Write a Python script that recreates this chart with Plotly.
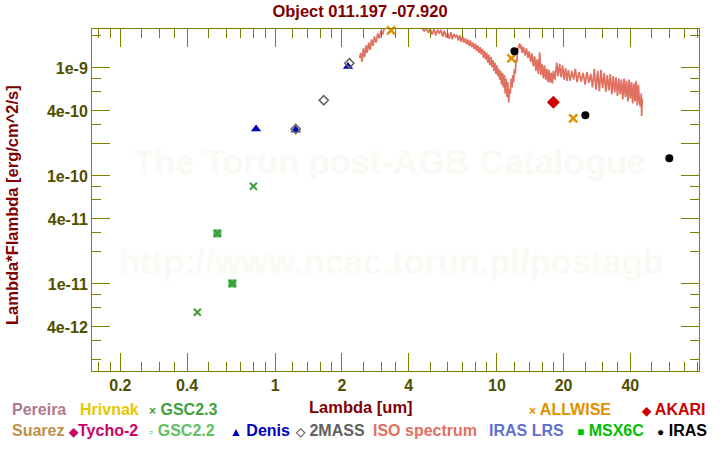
import plotly.graph_objects as go

# ---------------- data ----------------
title_text = "Object 011.197 -07.920"
x_label = "Lambda [um]"
y_label = "Lambda*Flambda [erg/cm^2/s]"
watermark_1 = "The Torun post-AGB Catalogue"
watermark_2 = "http://www.ncac.torun.pl/postagb"

# ISO spectrum (wavelength in um, flux in units of 1e-9 erg/cm^2/s)
iso_wl = [2.40, 2.43, 2.46, 2.50, 2.53, 2.57, 2.60, 2.64, 2.68, 2.72, 2.76, 2.80, 2.85, 2.90, 2.95,
          3.00, 3.05, 3.10, 3.20, 3.35, 3.60, 3.90, 4.20, 4.40, 4.60, 4.70, 4.80, 4.90, 5.00, 5.10,
          5.20, 5.30, 5.40, 5.50, 5.60, 5.70, 5.80, 5.90, 6.00, 6.10, 6.20, 6.30, 6.40, 6.50, 6.60,
          6.70, 6.80, 6.90, 7.00, 7.10, 7.20, 7.30, 7.40, 7.50, 7.60, 7.70, 7.80, 7.90, 8.00, 8.10,
          8.20, 8.30, 8.40, 8.50, 8.60, 8.70, 8.80, 8.90, 9.00, 9.10, 9.20, 9.30, 9.40, 9.50, 9.60,
          9.70, 9.80, 9.90, 10.0, 10.1, 10.2, 10.3, 10.4, 10.5, 10.6, 10.7, 10.8, 10.9, 11.0, 11.1,
          11.2, 11.3, 11.4, 11.5, 11.6, 11.7, 11.8, 11.9, 12.0, 12.1, 12.2, 12.3, 12.4, 12.5, 12.6,
          12.7, 12.8, 12.9, 13.0, 13.2, 13.4, 13.6, 13.8, 14.0, 14.2, 14.4, 14.6, 14.8, 15.0, 15.2,
          15.4, 15.6, 15.8, 16.0, 16.2, 16.4, 16.6, 16.8, 17.0, 17.2, 17.4, 17.6, 17.8, 18.0, 18.3,
          18.6, 18.9, 19.2, 19.5, 19.8, 20.1, 20.4, 20.7, 21.0, 21.4, 21.8, 22.2, 22.6, 23.0, 23.5,
          24.0, 24.5, 25.0, 25.5, 26.0, 26.5, 27.0, 27.5, 28.0, 28.5, 29.0, 29.5, 30.0, 30.5, 31.0,
          31.5, 32.0, 32.5, 33.0, 33.5, 34.0, 34.5, 35.0, 35.5, 36.0, 36.5, 37.0, 37.5, 38.0, 38.5,
          39.0, 39.5, 40.0, 40.5, 41.0, 41.5, 42.0, 42.5, 43.0, 43.5, 44.0, 44.5, 44.8, 45.0, 45.3]
iso_flux_e9 = [1.24, 1.38, 1.14, 1.52, 1.26, 1.62, 1.38, 1.72, 1.47, 1.84, 1.60, 1.96, 1.72, 2.08, 1.88,
               2.22, 2.04, 2.30, 2.45, 2.60, 2.75, 2.80, 2.70, 2.45, 2.32, 2.20, 2.34, 2.12, 2.30, 2.04,
               2.28, 2.00, 2.26, 2.08, 2.25, 1.95, 2.22, 1.92, 2.10, 1.86, 2.14, 1.84, 2.06, 1.94, 2.02,
               1.80, 2.00, 1.74, 1.96, 1.72, 1.88, 1.66, 1.84, 1.60, 1.80, 1.56, 1.72, 1.50, 1.68, 1.44,
               1.62, 1.38, 1.56, 1.34, 1.50, 1.24, 1.44, 1.20, 1.38, 1.12, 1.32, 1.06, 1.26, 1.02, 1.18,
               0.94, 1.12, 0.88, 1.06, 0.84, 0.98, 0.78, 0.94, 0.70, 0.90, 0.66, 0.86, 0.58, 0.80, 0.54,
               0.74, 0.48, 0.64, 0.58, 0.80, 0.66, 0.86, 0.74, 0.98, 0.88, 1.20, 1.12, 1.48, 1.52, 1.63,
               1.68, 1.50, 1.62, 1.38, 1.56, 1.30, 1.52, 1.24, 1.42, 1.14, 1.36, 1.04, 1.28, 0.94, 1.20,
               0.88, 1.40, 0.86, 1.08, 0.80, 1.06, 0.78, 0.98, 0.74, 0.96, 0.73, 0.90, 0.72, 0.94, 0.78,
               1.12, 0.84, 1.10, 0.82, 1.06, 0.78, 1.00, 0.76, 0.96, 0.76, 0.94, 0.78, 0.98, 0.74, 0.92,
               0.75, 0.90, 0.70, 0.92, 0.73, 0.88, 0.66, 0.98, 0.63, 0.94, 0.61, 0.96, 0.65, 0.90, 0.60,
               0.86, 0.62, 0.88, 0.57, 0.84, 0.59, 0.82, 0.55, 0.80, 0.57, 0.78, 0.51, 0.80, 0.54, 0.76,
               0.49, 0.78, 0.52, 0.74, 0.47, 0.72, 0.49, 0.76, 0.45, 0.70, 0.47, 0.44, 0.58, 0.36, 0.52]

gsc22_wl = [0.548, 0.640]
gsc22_flux = [2.94e-11, 1.01e-11]
gsc23_wl = [0.445, 0.548, 0.640, 0.797]
gsc23_flux = [5.47e-12, 2.94e-11, 1.01e-11, 8.03e-11]
denis_wl = [0.819, 1.237, 2.13]
denis_flux = [2.72e-10, 2.67e-10, 1.03e-9]
tmass_wl = [1.237, 1.655, 2.16]
tmass_flux = [2.72e-10, 5.02e-10, 1.105e-9]
allwise_wl = [3.33, 11.63, 22.1]
allwise_flux = [2.23e-9, 1.23e-9, 3.42e-10]
akari_wl = [17.98]
akari_flux = [4.81e-10]
iras_wl = [12.0, 25.07, 60.0]
iras_flux = [1.43e-9, 3.65e-10, 1.46e-10]

x_major = [0.2, 0.4, 1, 2, 4, 10, 20, 40]
x_major_text = ["0.2", "0.4", "1", "2", "4", "10", "20", "40"]
x_minor = [0.16, 0.18, 0.25, 0.3, 0.35, 0.5, 0.6, 0.7, 0.8, 0.9, 1.2, 1.4, 1.6, 1.8,
           2.5, 3, 3.5, 5, 6, 7, 8, 9, 12, 14, 16, 18, 25, 30, 35, 50, 60, 70, 80]
y_major = [4e-12, 1e-11, 4e-11, 1e-10, 2e-10, 4e-10, 1e-9]
y_major_text = ["4e-12", "1e-11", "4e-11", "1e-10", "", "4e-10", "1e-9"]
y_minor = [2e-12, 3e-12, 6e-12, 8e-12, 2e-11, 3e-11, 6e-11, 8e-11, 3e-10, 6e-10, 8e-10, 2e-9]

legend_row1_sym = ["", "", "\u00d7", "\u00d7", "\u25c6"]
legend_row1 = ["Pereira", "Hrivnak", " GSC2.3", " ALLWISE", " AKARI"]
legend_row2_sym = ["", "\u25c6", "\u25ab", "\u25b2", "\u25c7", "", "", "\u25a0", "\u25cf"]
legend_row2 = ["Suarez", "Tycho-2", " GSC2.2", " Denis", " 2MASS",
               "ISO spectrum", "IRAS LRS", " MSX6C", " IRAS"]

# ---------------- styles ----------------
FONT = "Liberation Sans, Arial, sans-serif"
FS = 16.5
LFS = 16
AXIS_COL = "#808000"
TICK_TXT = "#4f4f00"
TITLE_COL = "#800000"
ISO_COL = "#e07060"
WM_COL = "#fbf9f4"
legend_row1_colors = ["#b07890", "#e8c800", "#40a040", "#e09000", "#cc0000"]
legend_row2_colors = ["#c09048", "#cc0066", "#60c060", "#0000c0", "#606060",
                      "#e07060", "#6070d0", "#00c000", "#000000"]
legend_row1_x = [10, 78, 147, 527, 639]
legend_row2_x = [10, 66, 147, 228, 293, 371, 487, 575, 655]

L, R, T, B = 92, 21, 29, 79
W, H = 720, 450
PW, PH = W - L - R, H - T - B


def px(xp):
    return (xp - L) / PW


def py(yp):
    return (H - B - yp) / PH


def legend_text(sym, label):
    if sym:
        return "<span style='font-size:12px'>" + sym + "</span>" + label
    return label


iso_flux = [v * 1e-9 for v in iso_flux_e9]

fig = go.Figure()
fig.add_trace(go.Scatter(x=iso_wl, y=iso_flux, mode="lines",
                         line=dict(color=ISO_COL, width=1.7), hoverinfo="skip"))
fig.add_trace(go.Scatter(x=gsc22_wl, y=gsc22_flux, mode="markers", cliponaxis=False,
                         marker=dict(symbol="square", size=8, color="#4cb44c")))
fig.add_trace(go.Scatter(x=gsc23_wl, y=gsc23_flux, mode="markers", cliponaxis=False,
                         marker=dict(symbol="x-thin", size=7, color="#40a040",
                                     line=dict(color="#3c9c3c", width=2))))
fig.add_trace(go.Scatter(x=denis_wl, y=denis_flux, mode="markers", cliponaxis=False,
                         marker=dict(symbol="triangle-up", size=9, color="#0000c0")))
fig.add_trace(go.Scatter(x=tmass_wl, y=tmass_flux, mode="markers", cliponaxis=False,
                         marker=dict(symbol="diamond-open", size=7, color="#666666",
                                     line=dict(color="#666666", width=1.6))))
fig.add_trace(go.Scatter(x=allwise_wl, y=allwise_flux, mode="markers", cliponaxis=False,
                         marker=dict(symbol="x-thin", size=8, color="#e09000",
                                     line=dict(color="#e09000", width=2.5))))
fig.add_trace(go.Scatter(x=akari_wl, y=akari_flux, mode="markers", cliponaxis=False,
                         marker=dict(symbol="diamond", size=10, color="#cc0000")))
fig.add_trace(go.Scatter(x=iras_wl, y=iras_flux, mode="markers", cliponaxis=False,
                         marker=dict(symbol="circle", size=8, color="#000000")))

axis_common = dict(
    type="log", showline=True, linecolor=AXIS_COL, linewidth=1, mirror="ticks",
    ticks="inside", ticklen=18, tickwidth=1, tickcolor=AXIS_COL, showgrid=False,
    zeroline=False, tickmode="array",
    tickfont=dict(family=FONT, size=16, color=TICK_TXT, weight="bold"),
)
fig.update_xaxes(**axis_common, range=[-0.827, 1.912], tickvals=x_major, ticktext=x_major_text,
                 minor=dict(tickmode="array", tickvals=x_minor, ticks="inside", ticklen=9,
                            tickwidth=1, tickcolor=AXIS_COL, showgrid=False))
fig.update_yaxes(**axis_common, range=[-11.806, -8.639], tickvals=y_major, ticktext=y_major_text,
                 minor=dict(tickmode="array", tickvals=y_minor, ticks="inside", ticklen=9,
                            tickwidth=1, tickcolor=AXIS_COL, showgrid=False))

ann = []
# watermarks
ann.append(dict(x=px(389), y=py(162), xref="paper", yref="paper", text=watermark_1,
                xanchor="center", yanchor="middle", showarrow=False,
                font=dict(family=FONT, size=34.5, color=WM_COL, weight="bold")))
ann.append(dict(x=px(391), y=py(262), xref="paper", yref="paper", text=watermark_2,
                xanchor="center", yanchor="middle", showarrow=False,
                font=dict(family=FONT, size=34.5, color=WM_COL, weight="bold")))
# axis titles
ann.append(dict(x=px(361), y=py(407), xref="paper", yref="paper", text=x_label, showarrow=False,
                xanchor="center", yanchor="middle",
                font=dict(family=FONT, size=FS, color=TITLE_COL, weight="bold")))
ann.append(dict(x=px(12), y=py(205), xref="paper", yref="paper", text=y_label, showarrow=False,
                xanchor="center", yanchor="middle", textangle=-90,
                font=dict(family=FONT, size=FS, color=TITLE_COL, weight="bold")))
# legend rows
for s, t, c, xx in zip(legend_row1_sym, legend_row1, legend_row1_colors, legend_row1_x):
    ann.append(dict(x=px(xx), y=py(410), xref="paper", yref="paper", text=legend_text(s, t),
                    showarrow=False, xanchor="left", yanchor="middle",
                    font=dict(family=FONT, size=LFS, color=c, weight="bold")))
for s, t, c, xx in zip(legend_row2_sym, legend_row2, legend_row2_colors, legend_row2_x):
    ann.append(dict(x=px(xx), y=py(430), xref="paper", yref="paper", text=legend_text(s, t),
                    showarrow=False, xanchor="left", yanchor="middle",
                    font=dict(family=FONT, size=LFS, color=c, weight="bold")))

fig.update_layout(
    width=W, height=H, margin=dict(l=L, r=R, t=T, b=B),
    paper_bgcolor="white", plot_bgcolor="white", showlegend=False,
    title=dict(text=title_text, x=0.5, xref="container", y=1 - 11 / H, yanchor="middle",
               xanchor="center",
               font=dict(family=FONT, size=FS, color=TITLE_COL, weight="bold")),
    annotations=ann,
)

fig.write_html("out.html")
